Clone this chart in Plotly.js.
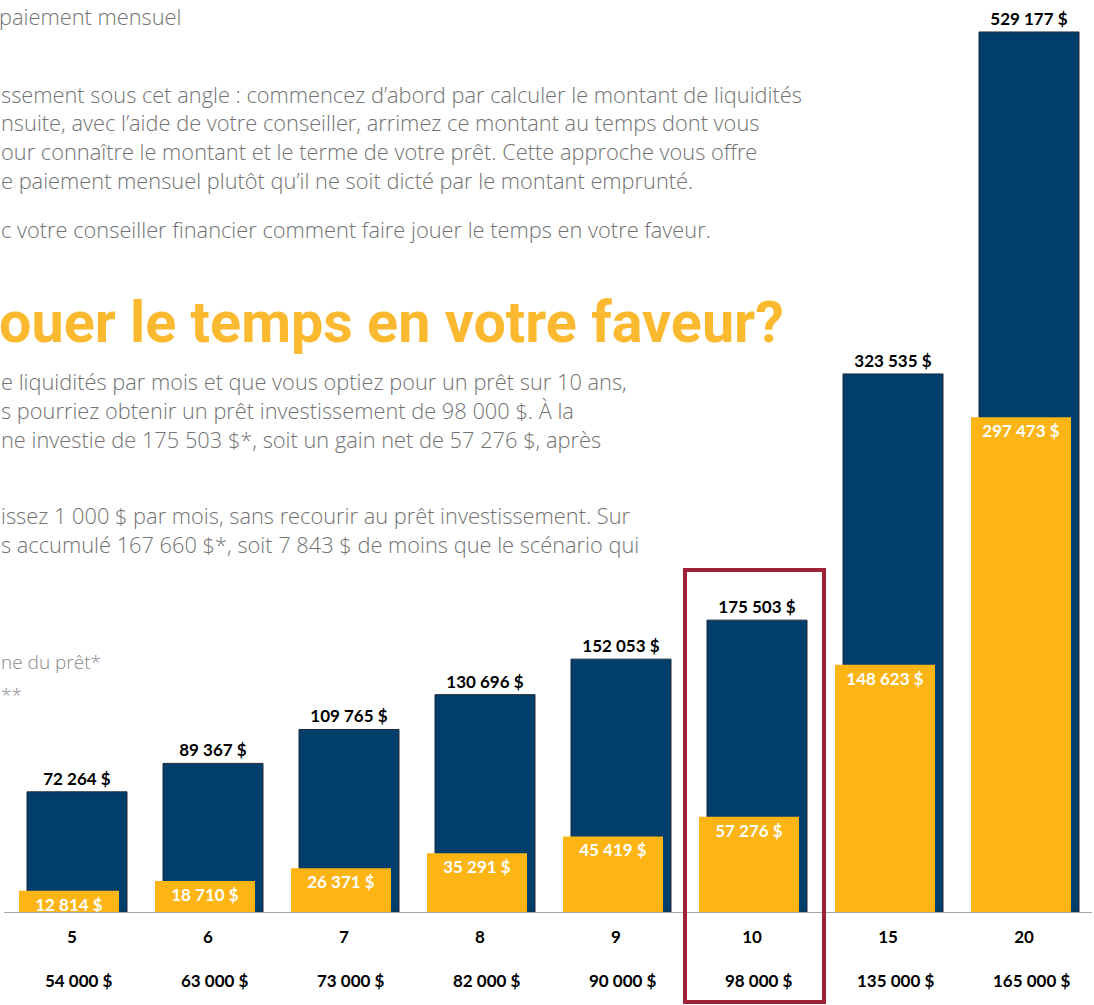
<!DOCTYPE html>
<html>
<head>
<meta charset="utf-8">
<script src="https://cdn.plot.ly/plotly-3.0.1.min.js"></script>
<style>
  html, body { margin: 0; padding: 0; background: #ffffff; }
  #chart { width: 1094px; height: 1005px; }
</style>
</head>
<body>
<div id="chart"></div>
<script>
// ---- data ----
const terms = ['5', '6', '7', '8', '9', '10', '15', '20'];
const loanAmounts = ['54 000 $', '63 000 $', '73 000 $', '82 000 $', '90 000 $', '98 000 $', '135 000 $', '165 000 $'];
const investedValue = [72264, 89367, 109765, 130696, 152053, 175503, 323535, 529177];
const netGain = [12814, 18710, 26371, 35291, 45419, 57276, 148623, 297473];

const bgLines = [
  'paiement mensuel',
  'ssement sous cet angle : commencez d\u2019abord par calculer le montant de liquidités',
  'nsuite, avec l\u2019aide de votre conseiller, arrimez ce montant au temps dont vous',
  'our connaître le montant et le terme de votre prêt. Cette approche vous offre',
  'e paiement mensuel plutôt qu\u2019il ne soit dicté par le montant emprunté.',
  'c votre conseiller financier comment faire jouer le temps en votre faveur.',
  'e liquidités par mois et que vous optiez pour un prêt sur 10 ans,',
  's pourriez obtenir un prêt investissement de 98 000 $. À la',
  'ne investie de 175 503 $*, soit un gain net de 57 276 $, après',
  'issez 1 000 $ par mois, sans recourir au prêt investissement. Sur',
  's accumulé 167 660 $*, soit 7 843 $ de moins que le scénario qui',
  'ne du prêt*',
  '**'
];
const bgLineY = [17, 94, 123, 152, 181, 229, 381, 410, 439, 515, 544, 662, 695];
const heading = 'ouer le temps en votre faveur?';

// ---- layout helpers (pixel -> paper) ----
const W = 1094, H = 1005;
const mL = 4, mR = 2, mT = 0, mB = 93;
const plotW = W - mL - mR, plotH = H - mT - mB;
const px = v => (v - mL) / plotW;
const py = v => (H - mB - v) / plotH;

const idx = terms.map((t, i) => i);
const barW = 100 / 136;
const labelFont = 'Lato, "Open Sans", sans-serif';

const navy = {
  type: 'bar',
  x: idx,
  y: investedValue,
  width: barW,
  offset: -45 / 136,
  marker: { color: '#023E6B', line: { color: '#1c2b3a', width: 1 } },
  texttemplate: '%{y:,} $',
  textposition: 'outside',
  cliponaxis: false,
  outsidetextfont: { family: labelFont, size: 17, color: '#000000', weight: 700 },
  hoverinfo: 'skip'
};

const yellow = {
  type: 'bar',
  x: idx,
  y: netGain,
  width: barW,
  offset: -53 / 136,
  marker: { color: '#FDB515', line: { width: 0 } },
  texttemplate: '%{y:,} $',
  textposition: 'inside',
  insidetextanchor: 'end',
  constraintext: 'none',
  insidetextfont: { family: labelFont, size: 17, color: '#ffffff', weight: 700 },
  hoverinfo: 'skip'
};

const annotations = [];
loanAmounts.forEach((t, i) => {
  annotations.push({
    x: i, xref: 'x', xshift: 7,
    y: py(981), yref: 'paper',
    text: t, showarrow: false,
    xanchor: 'center', yanchor: 'middle',
    font: { family: labelFont, size: 17, color: '#000000', weight: 700 }
  });
});
bgLines.forEach((t, i) => {
  const light = i >= 11;
  annotations.push({
    x: px(i === 0 ? -3 : -1), xref: 'paper',
    y: py(bgLineY[i]), yref: 'paper',
    text: t, showarrow: false,
    xanchor: 'left', yanchor: 'middle',
    font: light
      ? { family: '"Open Sans", sans-serif', size: 19, color: '#8a8a8a', weight: 300 }
      : { family: '"Open Sans", "Noto Sans", sans-serif', size: 21.8, color: '#727272', weight: 300 }
  });
});
annotations.push({
  x: px(-3), xref: 'paper',
  y: py(323), yref: 'paper',
  text: heading, showarrow: false,
  xanchor: 'left', yanchor: 'middle',
  font: { family: 'Roboto, "Noto Sans", sans-serif', size: 57.5, color: '#FBB92F', weight: 700 }
});

const layout = {
  width: W, height: H,
  margin: { l: mL, r: mR, t: mT, b: mB },
  paper_bgcolor: '#ffffff',
  plot_bgcolor: '#ffffff',
  barmode: 'overlay',
  separators: ', ',
  showlegend: false,
  xaxis: {
    range: [-0.5, 7.5],
    tickvals: idx,
    ticktext: terms,
    ticks: '',
    ticklabelstandoff: 10,
    tickfont: { family: labelFont, size: 17, color: '#000000', weight: 700 },
    showline: true, linecolor: '#a6a6a6', linewidth: 1,
    showgrid: false, zeroline: false, fixedrange: true
  },
  yaxis: {
    range: [0, 548400],
    visible: false, showgrid: false, zeroline: false, fixedrange: true
  },
  shapes: [{
    type: 'rect', xref: 'paper', yref: 'paper',
    x0: px(685), x1: px(824), y0: py(570), y1: py(1002),
    line: { color: '#9E2235', width: 4 },
    fillcolor: 'rgba(0,0,0,0)', layer: 'above'
  }],
  annotations: annotations
};

Plotly.newPlot('chart', [navy, yellow], layout, { displayModeBar: false, staticPlot: true });
</script>
</body>
</html>
